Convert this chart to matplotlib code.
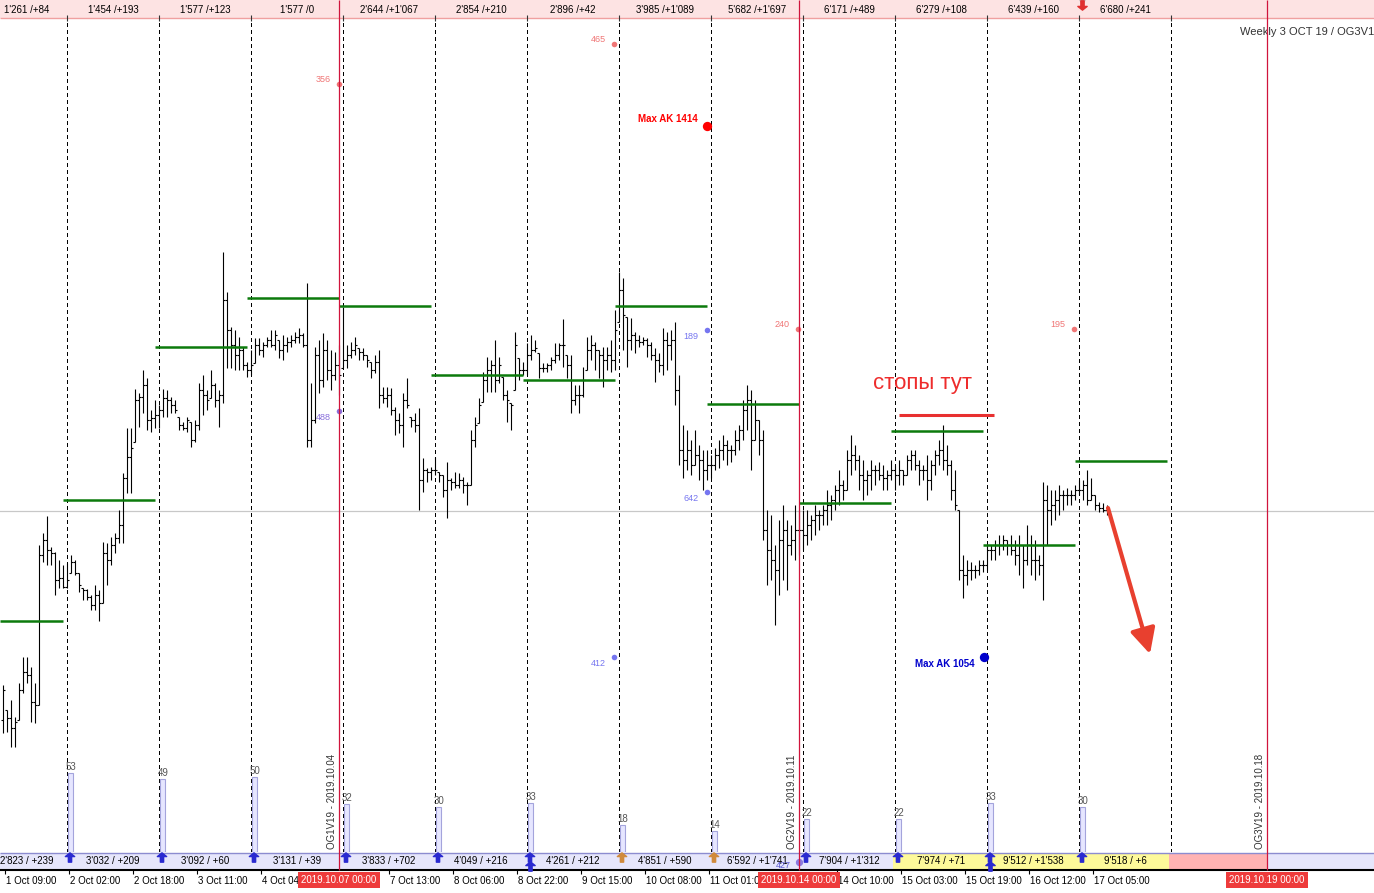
import matplotlib
matplotlib.use("Agg")
import matplotlib.pyplot as plt
import numpy as np
from matplotlib.collections import LineCollection
from matplotlib.patches import Rectangle
from matplotlib.path import Path

plt.rcParams["font.family"] = ["Liberation Sans", "DejaVu Sans"]

# H1 bars, one list per trading day (23 bars), first and last day partial
highs = [
    1481.5, 1479.0, 1480.0, 1478.3, 1481.7, 1484.3, 1484.3, 1483.3, 1481.7, 1495.5, 1496.7, 1498.4, 1495.3, 1494.8, 1494.0, 1493.5,
    1493.7, 1494.5, 1494.0, 1492.7, 1491.2, 1491.1, 1490.5, 1491.5, 1491.0, 1495.8, 1495.7, 1496.3, 1496.7, 1499.0, 1502.7, 1507.2, 1507.2, 1511.1, 1510.7, 1513.0, 1512.2, 1509.0, 1510.0,
    1509.5, 1511.1, 1511.0, 1510.3, 1510.0, 1508.3, 1507.8, 1508.3, 1507.8, 1508.0, 1511.7, 1512.5, 1511.0, 1513.0, 1511.7, 1511.0, 1524.8, 1520.8, 1517.3, 1517.0, 1516.3, 1515.3, 1513.8,
    1515.0, 1516.2, 1516.2, 1515.8, 1516.3, 1517.0, 1517.0, 1516.0, 1516.5, 1516.3, 1516.5, 1516.8, 1517.2, 1516.7, 1521.7, 1511.7, 1515.3, 1516.0, 1516.7, 1516.0, 1515.0, 1514.8, 1515.5,
    1519.3, 1515.5, 1515.8, 1516.3, 1515.2, 1515.2, 1514.5, 1513.8, 1514.5, 1515.0, 1511.3, 1511.3, 1511.2, 1509.3, 1508.7, 1510.7, 1512.2, 1508.3, 1508.7, 1509.2, 1504.2, 1503.2, 1503.3,
    1504.3, 1502.8, 1502.5, 1503.8, 1502.2, 1502.8, 1502.7, 1502.3, 1501.8, 1507.0, 1508.3, 1510.2, 1512.8, 1514.3, 1514.0, 1516.0, 1514.3, 1512.3, 1511.0, 1509.7, 1516.8, 1514.2, 1513.8,
    1515.7, 1516.5, 1516.0, 1514.7, 1513.7, 1513.7, 1514.3, 1515.7, 1515.7, 1518.1, 1514.5, 1514.5, 1511.5, 1511.5, 1513.3, 1516.3, 1516.5, 1515.8, 1515.0, 1515.3, 1515.3, 1516.0, 1519.0,
    1522.8, 1522.2, 1518.3, 1518.2, 1516.8, 1516.5, 1516.3, 1516.2, 1515.8, 1515.2, 1514.7, 1517.2, 1516.8, 1517.0, 1517.8, 1512.5, 1507.5, 1507.0, 1506.0, 1507.0, 1505.5, 1505.0, 1505.0,
    1504.5, 1505.2, 1506.0, 1506.5, 1506.0, 1505.5, 1507.0, 1507.5, 1510.0, 1511.5, 1511.0, 1510.0, 1508.0, 1507.0, 1499.0, 1498.5, 1495.5, 1498.0, 1499.5, 1498.0, 1497.5, 1499.5, 1499.0,
    1499.0, 1499.0, 1498.5, 1499.5, 1499.0, 1499.5, 1501.0, 1500.5, 1501.5, 1503.0, 1502.0, 1505.0, 1506.5, 1505.5, 1504.5, 1504.0, 1503.0, 1504.0, 1503.5, 1503.8, 1503.5, 1503.0, 1504.0,
    1503.5, 1504.0, 1503.0, 1504.5, 1505.0, 1505.0, 1504.0, 1503.5, 1504.5, 1504.0, 1505.0, 1506.0, 1507.5, 1505.5, 1504.0, 1503.0, 1499.0, 1494.5, 1494.0, 1493.8, 1493.5, 1494.0, 1494.0,
    1495.5, 1495.5, 1496.0, 1496.5, 1496.5, 1496.0, 1496.5, 1496.0, 1496.5, 1495.5, 1497.5, 1496.5, 1496.0, 1494.5, 1501.8, 1501.5, 1501.0, 1501.0, 1501.5, 1501.0, 1501.2, 1501.0, 1501.5,
    1502.0, 1502.0, 1503.0, 1502.2, 1500.5, 1499.8, 1499.7, 1499.5,
]
lows = [
    1476.7, 1476.8, 1475.3, 1475.3, 1478.0, 1480.7, 1481.7, 1477.8, 1477.7, 1479.5, 1493.8, 1493.5, 1493.5, 1490.5, 1491.2, 1491.2,
    1491.2, 1492.7, 1492.5, 1490.8, 1490.0, 1490.0, 1489.0, 1489.0, 1487.9, 1489.7, 1491.5, 1493.5, 1494.7, 1495.7, 1495.7, 1500.7, 1500.7, 1505.8, 1507.3, 1508.7, 1507.0, 1506.8, 1507.2,
    1507.2, 1508.3, 1508.3, 1508.7, 1508.7, 1507.0, 1507.0, 1506.8, 1505.3, 1505.8, 1507.0, 1508.5, 1509.0, 1510.2, 1509.3, 1507.3, 1509.7, 1513.2, 1513.2, 1513.0, 1513.0, 1513.0, 1512.3,
    1512.5, 1513.7, 1514.5, 1514.3, 1515.3, 1515.3, 1515.0, 1514.2, 1514.0, 1514.8, 1515.3, 1515.7, 1515.7, 1515.3, 1505.3, 1505.3, 1507.7, 1510.7, 1511.3, 1512.0, 1511.0, 1512.0, 1510.5,
    1513.2, 1513.2, 1514.2, 1514.5, 1514.0, 1514.0, 1513.3, 1512.2, 1512.7, 1509.2, 1509.7, 1509.3, 1508.5, 1506.5, 1506.7, 1505.3, 1509.2, 1507.3, 1506.8, 1499.0, 1500.8, 1501.8, 1502.0,
    1502.5, 1501.8, 1500.3, 1498.2, 1501.0, 1501.2, 1501.2, 1500.7, 1499.5, 1501.5, 1505.3, 1507.7, 1509.8, 1510.8, 1510.8, 1510.8, 1511.7, 1510.0, 1507.8, 1507.0, 1511.0, 1512.0, 1512.5,
    1512.5, 1514.0, 1514.8, 1512.2, 1512.8, 1512.8, 1513.0, 1513.7, 1514.0, 1513.3, 1512.2, 1508.7, 1509.5, 1508.7, 1510.3, 1513.0, 1514.0, 1513.0, 1512.2, 1511.3, 1513.0, 1512.8, 1513.0,
    1517.8, 1515.0, 1513.3, 1515.0, 1514.7, 1515.3, 1515.5, 1514.3, 1514.0, 1511.8, 1512.8, 1512.5, 1513.0, 1514.0, 1509.5, 1503.5, 1502.2, 1503.0, 1502.5, 1503.5, 1502.0, 1501.0, 1502.0,
    1502.2, 1503.0, 1503.2, 1504.0, 1503.5, 1503.8, 1504.5, 1505.0, 1506.0, 1507.0, 1503.0, 1506.0, 1504.5, 1496.0, 1491.5, 1492.0, 1487.5, 1490.5, 1492.0, 1491.0, 1494.5, 1494.0, 1494.5,
    1495.0, 1495.5, 1496.0, 1496.5, 1497.0, 1497.5, 1497.5, 1498.0, 1499.0, 1499.5, 1500.0, 1501.0, 1502.5, 1503.0, 1501.0, 1500.0, 1500.5, 1501.0, 1501.5, 1502.0, 1501.0, 1501.0, 1502.0,
    1501.0, 1501.5, 1501.5, 1502.5, 1503.0, 1503.0, 1501.5, 1502.0, 1500.0, 1501.0, 1502.5, 1503.5, 1503.0, 1502.5, 1500.0, 1499.0, 1492.0, 1490.2, 1491.5, 1492.0, 1492.2, 1492.5, 1492.8,
    1493.0, 1494.0, 1494.0, 1494.5, 1495.0, 1494.5, 1494.5, 1493.5, 1492.5, 1491.2, 1493.5, 1492.5, 1492.0, 1492.5, 1490.0, 1495.5, 1497.5, 1498.0, 1498.5, 1499.0, 1499.5, 1499.5, 1500.0,
    1500.5, 1500.0, 1499.5, 1500.0, 1499.0, 1498.8, 1498.8, 1498.5,
]
opens = [
    1478.0, 1481.0, 1478.2, 1477.2, 1477.8, 1481.0, 1482.8, 1482.5, 1479.8, 1479.5, 1494.5, 1496.0, 1495.0, 1494.7, 1492.0, 1492.2,
    1491.3, 1492.0, 1493.8, 1492.7, 1491.5, 1491.0, 1490.3, 1489.5, 1490.5, 1489.7, 1494.7, 1494.0, 1495.5, 1496.2, 1497.5, 1502.2, 1504.3, 1505.2, 1510.0, 1510.3, 1511.5, 1508.0, 1508.2,
    1508.5, 1509.0, 1510.2, 1510.0, 1509.5, 1509.0, 1507.5, 1507.2, 1508.0, 1506.0, 1507.5, 1511.0, 1510.5, 1510.0, 1511.5, 1510.0, 1510.5, 1520.0, 1517.0, 1515.5, 1514.5, 1515.0, 1513.5,
    1513.0, 1513.5, 1515.5, 1515.0, 1515.5, 1516.0, 1515.5, 1516.5, 1515.0, 1515.5, 1515.8, 1516.0, 1516.3, 1516.5, 1515.5, 1506.0, 1508.0, 1514.5, 1512.0, 1515.0, 1513.0, 1512.5, 1513.5,
    1512.5, 1514.0, 1514.5, 1515.0, 1515.5, 1514.8, 1514.5, 1514.0, 1513.0, 1513.8, 1510.5, 1510.2, 1510.5, 1509.0, 1508.0, 1507.5, 1510.0, 1509.5, 1508.0, 1507.5, 1502.0, 1503.0, 1502.8,
    1503.0, 1503.0, 1502.5, 1501.0, 1502.0, 1501.8, 1501.5, 1502.0, 1501.5, 1501.5, 1506.0, 1507.5, 1509.5, 1512.0, 1513.0, 1513.5, 1512.0, 1513.5, 1510.5, 1510.0, 1509.5, 1515.5, 1513.0,
    1513.0, 1514.5, 1515.0, 1515.2, 1513.2, 1513.2, 1513.5, 1514.0, 1514.5, 1515.5, 1515.5, 1513.5, 1510.0, 1510.5, 1510.5, 1512.0, 1515.0, 1515.5, 1515.0, 1514.5, 1514.0, 1514.5, 1514.0,
    1517.0, 1521.0, 1518.5, 1516.0, 1516.5, 1516.0, 1515.8, 1516.0, 1515.5, 1514.5, 1514.0, 1513.5, 1516.0, 1515.5, 1516.0, 1511.0, 1505.0, 1504.0, 1505.0, 1503.5, 1504.5, 1504.0, 1503.0,
    1503.5, 1503.5, 1504.5, 1505.0, 1505.5, 1505.0, 1505.0, 1506.0, 1507.0, 1509.0, 1510.0, 1506.0, 1508.0, 1506.0, 1497.0, 1495.0, 1494.0, 1493.0, 1496.0, 1497.0, 1495.5, 1496.0, 1497.0,
    1497.0, 1496.5, 1497.5, 1498.0, 1498.5, 1498.5, 1499.0, 1499.5, 1500.0, 1501.0, 1501.5, 1501.0, 1504.0, 1504.5, 1504.0, 1502.5, 1502.0, 1502.5, 1503.0, 1503.0, 1502.5, 1502.2, 1502.5,
    1503.0, 1502.5, 1503.0, 1502.5, 1504.0, 1504.5, 1503.5, 1503.0, 1503.0, 1502.0, 1503.5, 1504.5, 1505.0, 1504.0, 1503.5, 1501.0, 1499.5, 1493.0, 1492.5, 1493.0, 1493.0, 1493.0, 1493.5,
    1493.5, 1495.0, 1495.0, 1495.5, 1495.5, 1496.0, 1495.5, 1495.0, 1494.5, 1495.5, 1494.0, 1495.5, 1494.0, 1494.0, 1493.5, 1500.0, 1499.0, 1499.5, 1500.0, 1500.5, 1500.5, 1500.5, 1500.5,
    1501.0, 1501.0, 1501.5, 1500.0, 1500.5, 1499.5, 1499.2, 1499.0,
]
closes = [
    1481.0, 1478.2, 1477.2, 1477.8, 1481.0, 1482.8, 1482.5, 1479.8, 1479.5, 1494.5, 1496.0, 1495.0, 1494.7, 1492.0, 1492.2, 1491.3,
    1492.0, 1493.8, 1492.7, 1491.5, 1491.0, 1490.3, 1489.5, 1490.5, 1489.7, 1494.7, 1494.0, 1495.5, 1496.2, 1497.5, 1502.2, 1504.3, 1505.2, 1510.0, 1510.3, 1511.5, 1508.0, 1508.2, 1508.5,
    1509.0, 1510.2, 1510.0, 1509.5, 1509.0, 1507.5, 1507.2, 1508.0, 1506.0, 1507.5, 1511.0, 1510.5, 1510.0, 1511.5, 1510.0, 1510.5, 1520.0, 1517.0, 1515.5, 1514.5, 1515.0, 1513.5, 1513.0,
    1513.5, 1515.5, 1515.0, 1515.5, 1516.0, 1515.5, 1516.5, 1515.0, 1515.5, 1515.8, 1516.0, 1516.3, 1516.5, 1515.5, 1506.0, 1508.0, 1514.5, 1512.0, 1515.0, 1513.0, 1512.5, 1513.5, 1512.5,
    1514.0, 1514.5, 1515.0, 1515.5, 1514.8, 1514.5, 1514.0, 1513.0, 1513.8, 1510.5, 1510.2, 1510.5, 1509.0, 1508.0, 1507.5, 1510.0, 1509.5, 1508.0, 1507.5, 1502.0, 1503.0, 1502.8, 1503.0,
    1503.0, 1502.5, 1501.0, 1502.0, 1501.8, 1501.5, 1502.0, 1501.5, 1501.5, 1506.0, 1507.5, 1509.5, 1512.0, 1513.0, 1513.5, 1512.0, 1513.5, 1510.5, 1510.0, 1509.5, 1515.5, 1513.0, 1513.0,
    1514.5, 1515.0, 1515.2, 1513.2, 1513.2, 1513.5, 1514.0, 1514.5, 1515.5, 1515.5, 1513.5, 1510.0, 1510.5, 1510.5, 1512.0, 1515.0, 1515.5, 1515.0, 1514.5, 1514.0, 1514.5, 1514.0, 1517.0,
    1521.0, 1518.5, 1516.0, 1516.5, 1516.0, 1515.8, 1516.0, 1515.5, 1514.5, 1514.0, 1513.5, 1516.0, 1515.5, 1516.0, 1511.0, 1505.0, 1504.0, 1505.0, 1503.5, 1504.5, 1504.0, 1503.0, 1503.5,
    1503.5, 1504.5, 1505.0, 1505.5, 1505.0, 1505.0, 1506.0, 1507.0, 1509.0, 1510.0, 1506.0, 1508.0, 1506.0, 1497.0, 1495.0, 1494.0, 1493.0, 1496.0, 1497.0, 1495.5, 1496.0, 1497.0, 1497.0,
    1496.5, 1497.5, 1498.0, 1498.5, 1498.5, 1499.0, 1499.5, 1500.0, 1501.0, 1501.5, 1501.0, 1504.0, 1504.5, 1504.0, 1502.5, 1502.0, 1502.5, 1503.0, 1503.0, 1502.5, 1502.2, 1502.5, 1503.0,
    1502.5, 1503.0, 1502.5, 1504.0, 1504.5, 1503.5, 1503.0, 1503.0, 1502.0, 1503.5, 1504.5, 1505.0, 1504.0, 1503.5, 1501.0, 1499.5, 1493.0, 1492.5, 1493.0, 1493.0, 1493.0, 1493.5, 1493.5,
    1495.0, 1495.0, 1495.5, 1495.5, 1496.0, 1495.5, 1495.0, 1494.5, 1495.5, 1494.0, 1495.5, 1494.0, 1494.0, 1493.5, 1500.0, 1499.0, 1499.5, 1500.0, 1500.5, 1500.5, 1500.5, 1500.5, 1501.0,
    1501.0, 1501.5, 1500.0, 1500.5, 1499.5, 1499.2, 1499.0, 1498.9,
]
assert len(highs) == len(lows) == len(opens) == len(closes) == 277

# day separators (bar index of first bar of each session) and weekly expiries
day_lines = np.arange(16, 293, 23)
week_lines = [84, 199, 316]
week_boxes = ["2019.10.07 00:00", "2019.10.14 00:00", "2019.10.19 00:00"]
week_names = ["OG1V19 - 2019.10.04", "OG2V19 - 2019.10.11", "OG3V19 - 2019.10.18"]

day_levels = [1487.9, 1500.0, 1515.3, 1520.2, 1519.4, 1512.5, 1512.0, 1519.4, 1509.6, 1499.7, 1506.9, 1495.5, 1503.9]

top_labels = ["1'261 /+84", "1'454 /+193", "1'577 /+123", "1'577 /0", "2'644 /+1'067", "2'854 /+210",
              "2'896 /+42", "3'985 /+1'089", "5'682 /+1'697", "6'171 /+489", "6'279 /+108", "6'439 /+160", "6'680 /+241"]
bottom_labels = ["2'823 / +239", "3'032 / +209", "3'092 / +60", "3'131 / +39", "3'833 / +702", "4'049 / +216",
                 "4'261 / +212", "4'851 / +590", "6'592 / +1'741", "7'904 / +1'312", "7'974 / +71", "9'512 / +1'538", "9'518 / +6"]

volumes = [53, 49, 50, 32, 30, 33, 18, 14, 22, 22, 33, 30]
arrow_colors = ["#2a2ad0"] * 6 + ["#d08a3c", "#d08a3c"] + ["#2a2ad0"] * 4
double_arrows = [131, 246]

tick_bars = [0, 16, 32, 48, 64, 96, 112, 128, 144, 160, 176, 208, 224, 240, 256, 272]
tick_labels = ["1 Oct 09:00", "2 Oct 02:00", "2 Oct 18:00", "3 Oct 11:00", "4 Oct 04:00", "7 Oct 13:00",
               "8 Oct 06:00", "8 Oct 22:00", "9 Oct 15:00", "10 Oct 08:00", "11 Oct 01:00", "14 Oct 10:00",
               "15 Oct 03:00", "15 Oct 19:00", "16 Oct 12:00", "17 Oct 05:00"]

# option strike markers: bar, price, label, colour, label below?
mark_x = [84, 152.75, 176, 198.75, 267.75, 84, 176, 152.75]
mark_y = [1541.6, 1545.6, 1517.0, 1517.1, 1517.1, 1508.9, 1500.8, 1484.3]
mark_txt = ["356", "465", "189", "240", "195", "488", "642", "412"]
mark_col = ["#f07676", "#f07676", "#7676f0", "#f07676", "#f07676", "#8a70dc", "#7676f0", "#7676f0"]
mark_below = [False, False, True, False, False, True, True, True]

max_ak = [(176, 1537.4, "Max AK 1414", "#ff0000", 1), (245.25, 1484.3, "Max AK 1054", "#0000cc", -1)]

stop_level = 1508.5
stop_span = (224, 247.75)
forecast = ((276.25, 1499.2), (286.75, 1484.6))

XMIN, XMAX = -0.75, 342.75
W, H = 1374, 893

fig = plt.figure(figsize=(W / 100, H / 100), dpi=100)


def band(top, bottom):
    a = fig.add_axes([0, 1 - bottom / H, 1, (bottom - top) / H])
    a.set_xlim(XMIN, XMAX)
    a.axis("off")
    return a


ax = band(18, 852)
ax.set_ylim(1464.8, 1548.2)
vol_ax = band(752, 852)
vol_ax.set_ylim(0, 100 / 1.5)
ov = band(0, 893)
ov.set_ylim(H, 0)

# price bars
x = np.arange(len(highs))
o = np.clip(opens, lows, highs)
segs = [((i, l), (i, h)) for i, l, h in zip(x, lows, highs)]
segs += [((i - 0.45, v), (i, v)) for i, v in zip(x, o)]
segs += [((i, v), (i + 0.45, v)) for i, v in zip(x, closes)]
ax.add_collection(LineCollection(segs, colors="black", linewidths=0.8, zorder=3))

ax.axhline(closes[-1], color="#c8c8c8", lw=0.9, zorder=0)
for d in day_lines:
    ax.axvline(d, color="black", lw=0.75, ls=(0, (3, 3)), antialiased=False, zorder=1)

starts = np.r_[XMIN, day_lines[:-1] - 1]
ends = day_lines - 1
ax.hlines(day_levels, starts, ends, colors="#0c7a0c", lw=1.8, zorder=4)

# strike markers
for mx, my, t, c, below in zip(mark_x, mark_y, mark_txt, mark_col, mark_below):
    ax.scatter([mx], [my], s=16, color=c, zorder=5, linewidths=0)
    ax.annotate(t, (mx, my), xytext=(-6, -4.5 if below else 3.5), textcoords="offset points",
                ha="right", va="center", fontsize=6.5, color=c)
for mx, my, t, c, side in max_ak:
    ax.scatter([mx], [my], s=45, color=c, zorder=5, linewidths=0)
    ax.annotate(t, (mx, my), xytext=(-6.5, 5 * side), textcoords="offset points",
                ha="right", va="center", fontsize=7, color=c, fontweight="bold")

ax.text(217.5, 1511.6, "стопы тут", fontsize=16, color="#ee2c2c", ha="left", va="center")
ax.hlines(stop_level, *stop_span, colors="#e83030", lw=2.2, zorder=4)
ax.annotate("", xy=forecast[1], xytext=forecast[0],
            arrowprops=dict(arrowstyle="-|>", color="#e8402f", lw=3, mutation_scale=38,
                            shrinkA=0, shrinkB=0), zorder=6)

# session volumes
vol_ax.bar(day_lines[:-1] + 0.875, volumes, width=1.25, color="#e6e6ff", edgecolor="#a4a4dc", lw=0.8)
for d, v in zip(day_lines[:-1], volumes):
    vol_ax.text(d - 0.4, v + 0.6, str(v), fontsize=7, color="#555555", ha="left", va="bottom")

# top strip
ov.add_patch(Rectangle((XMIN, 0), XMAX - XMIN, 18, fc="#fde3e3", ec="none", zorder=1))
ov.hlines(18, XMIN, XMAX, colors="#f0a0a0", lw=1, zorder=2)
ov.vlines(day_lines, 15, 21, colors="#333333", lw=0.8, zorder=2)
centers = np.maximum(day_lines - 11.5, 6.0)
for c, t in zip(centers, top_labels):
    ov.text(c, 10, t, ha="center", va="center", fontsize=7, zorder=3)

down_arrow = Path([(0, -1), (-1, -0.2), (-0.35, -0.2), (-0.35, 1), (0.35, 1), (0.35, -0.2), (1, -0.2), (0, -1)],
                  [Path.MOVETO] + [Path.LINETO] * 6 + [Path.CLOSEPOLY])
up_arrow = Path([(0, 1), (-1, 0.2), (-0.35, 0.2), (-0.35, -1), (0.35, -1), (0.35, 0.2), (1, 0.2), (0, 1)],
                [Path.MOVETO] + [Path.LINETO] * 6 + [Path.CLOSEPOLY])
ov.scatter([269.75], [1.5], marker="v", s=14, color="#b8b8b8", zorder=3)
ov.scatter([269.75], [5], marker=down_arrow, s=45, color="#e03030", zorder=4)

# bottom strip
ov.add_patch(Rectangle((XMIN, 853), XMAX - XMIN, 17, fc="#e6e6fb", ec="none", zorder=1))
ov.add_patch(Rectangle((222.5, 853), 69, 17, fc="#fdf99a", ec="none", zorder=1))
ov.add_patch(Rectangle((291.5, 853), week_lines[2] - 291.5, 17, fc="#ffb3b3", ec="none", zorder=1))
ov.hlines(853, XMIN, XMAX, colors="#8c8cd0", lw=1, zorder=2)
ov.hlines(870, XMIN, XMAX, colors="black", lw=1.5, zorder=2)
for c, t in zip(centers, bottom_labels):
    ov.text(c, 861.5, t, ha="center", va="center", fontsize=7, zorder=3)
ov.scatter(day_lines[:-1] + 0.75, [857.5] * len(volumes), marker=up_arrow, s=45, c=arrow_colors, zorder=4)
ov.scatter(np.array(double_arrows) + 0.75, [865.5] * len(double_arrows), marker=up_arrow, s=45, c="#2a2ad0", zorder=4)
ov.scatter([199], [862], s=18, color="#8c7ae0", zorder=4)
ov.text(195, 866, "427", ha="center", va="center", fontsize=6.5, color="#5a5ad0", zorder=3)

# weekly expiry lines
ov.vlines(week_lines, 0, 870, colors="#d0143c", lw=0.9, zorder=5)
for w, t in zip(week_lines, week_names):
    ov.text(w - 1.75, 849, t, rotation=90, ha="center", va="bottom", fontsize=7, color="#333333", zorder=3)

ov.text(309.25, 32, "Weekly 3 OCT 19 / OG3V19", ha="left", va="center", fontsize=8, color="#333333")

# time axis
tb = np.array(tick_bars)
ov.vlines(tb + 0.5, 870, 874, colors="black", lw=0.8)
for b, t in zip(tb, tick_labels):
    ov.text(b + 0.75, 881, t, ha="left", va="center", fontsize=7, zorder=3)
for w, t in zip(week_lines, week_boxes):
    ov.text(w, 880, t, ha="center", va="center", fontsize=7, color="white", zorder=10,
            bbox=dict(boxstyle="square,pad=0.3", fc="#ee3b3b", ec="none"))

fig.savefig("out.png", dpi=100)
